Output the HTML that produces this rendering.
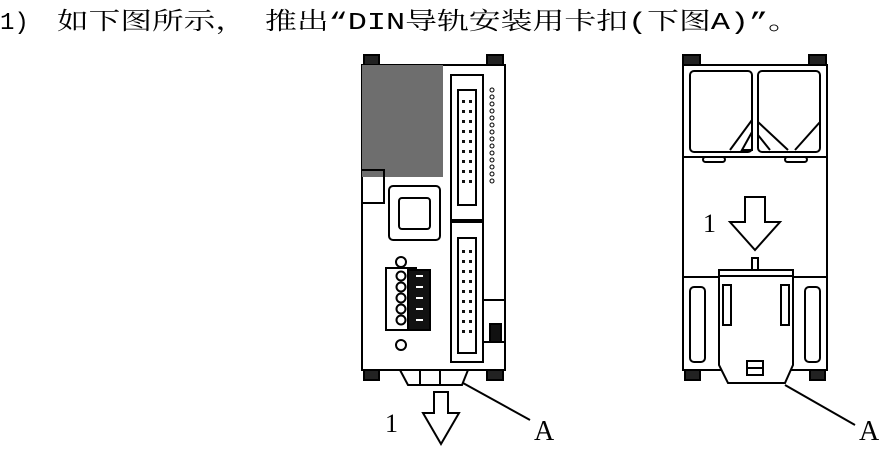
<!DOCTYPE html>
<html><head><meta charset="utf-8"><style>
html,body{margin:0;padding:0;background:#fff;width:880px;height:449px;overflow:hidden}
svg{display:block}
text{font-family:"Liberation Serif","Noto Serif CJK SC",serif;fill:#000}
</style></head><body>
<svg width="880" height="449" viewBox="0 0 880 449" xmlns="http://www.w3.org/2000/svg">
<text x="0" y="29" font-size="24" style="font-family:'Liberation Mono','Noto Serif CJK SC',monospace">1)</text>
<text x="57" y="29" font-size="24" textLength="190" lengthAdjust="spacingAndGlyphs" style="font-family:'Noto Serif CJK SC',serif">如下图所示，</text>
<text x="265" y="29" font-size="24" textLength="535" lengthAdjust="spacingAndGlyphs" style="font-family:'Liberation Mono','Noto Serif CJK SC',monospace">推出“DIN导轨安装用卡扣(下图A)”。</text>
<g fill="none" stroke="#000" stroke-width="2">
<!-- left device -->
<rect x="364" y="55" width="15" height="10" fill="#222"/>
<rect x="487" y="55" width="16" height="10" fill="#222"/>
<rect x="364" y="370" width="15" height="10" fill="#222"/>
<rect x="487" y="370" width="16" height="10" fill="#222"/>
<rect x="362" y="65" width="143" height="305" fill="#fff"/>
<rect x="362" y="65" width="81" height="112" fill="#6e6e6e" stroke="none"/>
<path d="M362 170 H384 V203 H362"/>
<rect x="389" y="186" width="51" height="54" rx="4"/>
<rect x="399" y="198" width="31" height="31" rx="3"/>
<rect x="386" y="268" width="30" height="62"/>
<rect x="408" y="270" width="22" height="60" fill="#111"/>
<g fill="#fff" stroke="none"><rect x="416" y="275" width="7" height="2"/><rect x="416" y="286" width="7" height="2"/><rect x="416" y="297" width="7" height="2"/><rect x="416" y="308" width="7" height="2"/><rect x="416" y="319" width="7" height="2"/></g>
<g fill="#fff"><circle cx="401" cy="262" r="5"/><circle cx="401" cy="276" r="4.5"/><circle cx="401" cy="287" r="4.5"/><circle cx="401" cy="298" r="4.5"/><circle cx="401" cy="309" r="4.5"/><circle cx="401" cy="320" r="4.5"/><circle cx="401" cy="345" r="5"/></g>
<rect x="451" y="75" width="32" height="145"/>
<rect x="451" y="222" width="32" height="140"/>
<rect x="458" y="90" width="18" height="115"/>
<rect x="458" y="238" width="18" height="115"/>
<path d="M483 300 H505 M483 342 H505"/>
<rect x="490" y="324" width="11" height="18" fill="#111"/>
<path d="M400 370 L408 385 H462 L468 370 M420 370 V385 M440 370 V385"/>
<path d="M434 392 H448 V413 H459 L441 444 L423 413 H434 Z" fill="#fff"/>
<path d="M463 383 L530 420"/>
<!-- right device -->
<rect x="683" y="55" width="17" height="10" fill="#222"/>
<rect x="809" y="55" width="17" height="10" fill="#222"/>
<rect x="685" y="370" width="15" height="10" fill="#222"/>
<rect x="810" y="370" width="15" height="10" fill="#222"/>
<rect x="683" y="65" width="144" height="305" fill="#fff"/>
<rect x="690" y="71" width="62" height="81" rx="4"/>
<rect x="758" y="71" width="62" height="81" rx="4"/>
<path d="M752 120 L730 150 M752 132 L742 150 H752 Z M758 122 L788 150 M758 135 L770 150 M820 122 L795 150"/>
<path d="M683 157 H827"/>
<rect x="703" y="157" width="22" height="5" rx="2.5"/>
<rect x="785" y="157" width="22" height="5" rx="2.5"/>
<path d="M683 277 H718 M793 277 H827"/>
<rect x="690" y="287" width="15" height="75" rx="4"/>
<rect x="805" y="287" width="15" height="75" rx="4"/>
<path d="M719 270 H793 V365 L785 383 H728 L719 365 Z" fill="#fff"/>
<path d="M719 276 H793"/>
<rect x="723" y="285" width="8" height="40"/><rect x="781" y="285" width="8" height="40"/>
<rect x="752" y="258" width="6" height="12"/>
<rect x="747" y="361" width="16" height="14"/><path d="M747 368 H763"/>
<path d="M745 197 H765 V222 H780 L755 250 L730 222 H745 Z" fill="#fff"/>
<path d="M785 385 L855 425"/>
</g>
<g fill="#111">
<rect x="462" y="100" width="3" height="3"/><rect x="469" y="100" width="3" height="3"/><rect x="462" y="110" width="3" height="3"/><rect x="469" y="110" width="3" height="3"/><rect x="462" y="120" width="3" height="3"/><rect x="469" y="120" width="3" height="3"/><rect x="462" y="130" width="3" height="3"/><rect x="469" y="130" width="3" height="3"/><rect x="462" y="140" width="3" height="3"/><rect x="469" y="140" width="3" height="3"/><rect x="462" y="150" width="3" height="3"/><rect x="469" y="150" width="3" height="3"/><rect x="462" y="160" width="3" height="3"/><rect x="469" y="160" width="3" height="3"/><rect x="462" y="170" width="3" height="3"/><rect x="469" y="170" width="3" height="3"/><rect x="462" y="180" width="3" height="3"/><rect x="469" y="180" width="3" height="3"/>
<rect x="462" y="250" width="3" height="3"/><rect x="469" y="250" width="3" height="3"/><rect x="462" y="260" width="3" height="3"/><rect x="469" y="260" width="3" height="3"/><rect x="462" y="270" width="3" height="3"/><rect x="469" y="270" width="3" height="3"/><rect x="462" y="280" width="3" height="3"/><rect x="469" y="280" width="3" height="3"/><rect x="462" y="290" width="3" height="3"/><rect x="469" y="290" width="3" height="3"/><rect x="462" y="300" width="3" height="3"/><rect x="469" y="300" width="3" height="3"/><rect x="462" y="310" width="3" height="3"/><rect x="469" y="310" width="3" height="3"/><rect x="462" y="320" width="3" height="3"/><rect x="469" y="320" width="3" height="3"/><rect x="462" y="330" width="3" height="3"/><rect x="469" y="330" width="3" height="3"/>
</g>
<text x="385" y="432" font-size="26">1</text>
<text x="534" y="440" font-size="28">A</text>
<text x="703" y="232" font-size="26">1</text>
<text x="859" y="440" font-size="28">A</text>
<g fill="#fff" stroke="#000" stroke-width="1">
<circle cx="492" cy="90" r="2"/><circle cx="492" cy="97" r="2"/><circle cx="492" cy="104" r="2"/><circle cx="492" cy="111" r="2"/><circle cx="492" cy="118" r="2"/><circle cx="492" cy="125" r="2"/><circle cx="492" cy="132" r="2"/><circle cx="492" cy="139" r="2"/><circle cx="492" cy="146" r="2"/><circle cx="492" cy="153" r="2"/><circle cx="492" cy="160" r="2"/><circle cx="492" cy="167" r="2"/><circle cx="492" cy="174" r="2"/><circle cx="492" cy="181" r="2"/>
</g>
</svg>
</body></html>
